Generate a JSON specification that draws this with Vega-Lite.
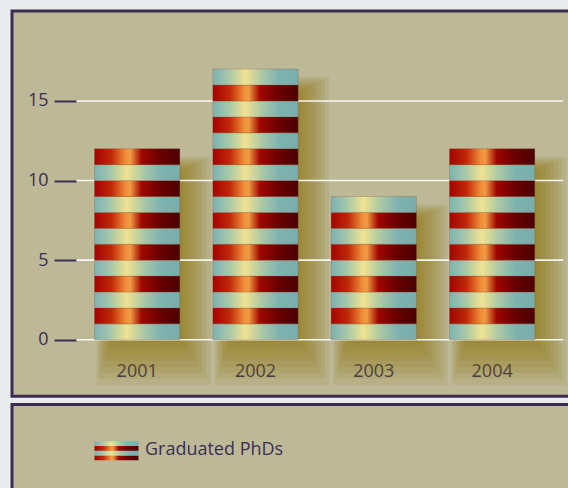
{
  "$schema": "https://vega.github.io/schema/vega-lite/v6.json",
  "background": "#e9ecee",
  "padding": {"left": 10, "top": 9, "right": -7, "bottom": -13.7},
  "spacing": 4.4,
  "config": {
    "view": {"stroke": "#3b2b52", "strokeWidth": 3, "fill": "#bdb997"},
    "font": "Open Sans",
    "bar": {"color": "#8a7000", "opacity": 0.11}
  },
  "datasets": {
    "grid": [{"v": 0}, {"v": 5}, {"v": 10}, {"v": 15}],
    "stripes": [
      {"year": "2001", "seg": 0}, {"year": "2001", "seg": 1}, {"year": "2001", "seg": 2}, {"year": "2001", "seg": 3},
      {"year": "2001", "seg": 4}, {"year": "2001", "seg": 5}, {"year": "2001", "seg": 6}, {"year": "2001", "seg": 7},
      {"year": "2001", "seg": 8}, {"year": "2001", "seg": 9}, {"year": "2001", "seg": 10}, {"year": "2001", "seg": 11},
      {"year": "2002", "seg": 0}, {"year": "2002", "seg": 1}, {"year": "2002", "seg": 2}, {"year": "2002", "seg": 3},
      {"year": "2002", "seg": 4}, {"year": "2002", "seg": 5}, {"year": "2002", "seg": 6}, {"year": "2002", "seg": 7},
      {"year": "2002", "seg": 8}, {"year": "2002", "seg": 9}, {"year": "2002", "seg": 10}, {"year": "2002", "seg": 11},
      {"year": "2002", "seg": 12}, {"year": "2002", "seg": 13}, {"year": "2002", "seg": 14}, {"year": "2002", "seg": 15},
      {"year": "2002", "seg": 16},
      {"year": "2003", "seg": 0}, {"year": "2003", "seg": 1}, {"year": "2003", "seg": 2}, {"year": "2003", "seg": 3},
      {"year": "2003", "seg": 4}, {"year": "2003", "seg": 5}, {"year": "2003", "seg": 6}, {"year": "2003", "seg": 7},
      {"year": "2003", "seg": 8},
      {"year": "2004", "seg": 0}, {"year": "2004", "seg": 1}, {"year": "2004", "seg": 2}, {"year": "2004", "seg": 3},
      {"year": "2004", "seg": 4}, {"year": "2004", "seg": 5}, {"year": "2004", "seg": 6}, {"year": "2004", "seg": 7},
      {"year": "2004", "seg": 8}, {"year": "2004", "seg": 9}, {"year": "2004", "seg": 10}, {"year": "2004", "seg": 11}
    ],
    "swatch": [{"seg": 0, "lo": 0, "hi": 1}, {"seg": 1, "lo": 1, "hi": 2}, {"seg": 2, "lo": 2, "hi": 3}, {"seg": 3, "lo": 3, "hi": 4}],
    "legend": [{"label": "Graduated PhDs"}]
  },
  "vconcat": [
    {
      "width": 562,
      "height": 385.3,
      "resolve": {"scale": {"x": "independent"}},
      "encoding": {
        "y": {"type": "quantitative", "title": null,
          "scale": {"domain": [-3.55, 20.65], "nice": false, "zero": false},
          "axis": {"values": [0, 5, 10, 15], "title": null, "domain": false, "grid": false, "offset": -64, "tickSize": 22, "tickWidth": 2, "tickColor": "#3b2f55", "labelFontSize": 18, "labelColor": "#3b2f55", "labelPadding": 6, "labelFont": "Open Sans"}}
      },
      "layer": [
        {"data": {"name": "stripes"}, "mark": {"type": "bar", "width": 72.3, "xOffset": 9.5, "yOffset": 22, "y2Offset": 3},
          "encoding": {"x": {"field": "year", "type": "nominal", "scale": {"type": "band", "range": [82.5, 522.8], "paddingInner": 0.279, "paddingOuter": 0}, "axis": null},
            "y": {"aggregate": "count", "type": "quantitative", "stack": null}, "y2": {"datum": 0}}},
        {"data": {"name": "stripes"}, "mark": {"type": "bar", "width": 78.3, "xOffset": 10.5, "yOffset": 20, "y2Offset": 9},
          "encoding": {"x": {"field": "year", "type": "nominal", "scale": {"type": "band", "range": [82.5, 522.8], "paddingInner": 0.279, "paddingOuter": 0}, "axis": null},
            "y": {"aggregate": "count", "type": "quantitative", "stack": null}, "y2": {"datum": 0}}},
        {"data": {"name": "stripes"}, "mark": {"type": "bar", "width": 84.3, "xOffset": 11.5, "yOffset": 18, "y2Offset": 15},
          "encoding": {"x": {"field": "year", "type": "nominal", "scale": {"type": "band", "range": [82.5, 522.8], "paddingInner": 0.279, "paddingOuter": 0}, "axis": null},
            "y": {"aggregate": "count", "type": "quantitative", "stack": null}, "y2": {"datum": 0}}},
        {"data": {"name": "stripes"}, "mark": {"type": "bar", "width": 90.3, "xOffset": 12.5, "yOffset": 16, "y2Offset": 21},
          "encoding": {"x": {"field": "year", "type": "nominal", "scale": {"type": "band", "range": [82.5, 522.8], "paddingInner": 0.279, "paddingOuter": 0}, "axis": null},
            "y": {"aggregate": "count", "type": "quantitative", "stack": null}, "y2": {"datum": 0}}},
        {"data": {"name": "stripes"}, "mark": {"type": "bar", "width": 96.3, "xOffset": 13.5, "yOffset": 14, "y2Offset": 27},
          "encoding": {"x": {"field": "year", "type": "nominal", "scale": {"type": "band", "range": [82.5, 522.8], "paddingInner": 0.279, "paddingOuter": 0}, "axis": null},
            "y": {"aggregate": "count", "type": "quantitative", "stack": null}, "y2": {"datum": 0}}},
        {"data": {"name": "stripes"}, "mark": {"type": "bar", "width": 102.3, "xOffset": 14.5, "yOffset": 12, "y2Offset": 33},
          "encoding": {"x": {"field": "year", "type": "nominal", "scale": {"type": "band", "range": [82.5, 522.8], "paddingInner": 0.279, "paddingOuter": 0}, "axis": null},
            "y": {"aggregate": "count", "type": "quantitative", "stack": null}, "y2": {"datum": 0}}},
        {"data": {"name": "stripes"}, "mark": {"type": "bar", "width": 108.3, "xOffset": 15.5, "yOffset": 10, "y2Offset": 39},
          "encoding": {"x": {"field": "year", "type": "nominal", "scale": {"type": "band", "range": [82.5, 522.8], "paddingInner": 0.279, "paddingOuter": 0}, "axis": null},
            "y": {"aggregate": "count", "type": "quantitative", "stack": null}, "y2": {"datum": 0}}},
        {"data": {"name": "stripes"}, "mark": {"type": "bar", "width": 114.3, "xOffset": 16.5, "yOffset": 8, "y2Offset": 45},
          "encoding": {"x": {"field": "year", "type": "nominal", "scale": {"type": "band", "range": [82.5, 522.8], "paddingInner": 0.279, "paddingOuter": 0}, "axis": null},
            "y": {"aggregate": "count", "type": "quantitative", "stack": null}, "y2": {"datum": 0}}},
        {
          "data": {"name": "grid"},
          "mark": {"type": "rule", "color": "#ffffff", "strokeWidth": 1.6, "opacity": 0.9},
          "encoding": {
            "x": {"datum": 0, "type": "quantitative", "scale": {"domain": [0, 1], "range": [64.5, 551.2]}, "axis": null},
            "x2": {"datum": 1},
            "y": {"field": "v", "type": "quantitative"}
          }
        },
        {
          "data": {"name": "stripes"},
          "mark": {"type": "bar", "opacity": 1, "stroke": "#8a4a30", "strokeWidth": 0.6, "strokeOpacity": 0.45},
          "encoding": {
            "x": {"field": "year", "type": "nominal", "scale": {"type": "band", "range": [82.5, 522.8], "paddingInner": 0.279, "paddingOuter": 0},
              "axis": {"title": null, "orient": "bottom", "offset": -56.5, "domain": false, "ticks": false, "tickSize": 0, "labelFontSize": 18, "labelColor": "#3b2f55", "labelPadding": 36.7, "labelBaseline": "alphabetic", "labelAngle": 0, "grid": false, "labelFont": "Open Sans"}},
            "y": {"aggregate": "count", "type": "quantitative", "stack": "zero"},
            "detail": {"field": "seg", "type": "quantitative"},
            "order": {"field": "seg", "type": "quantitative"},
            "fill": {
              "condition": {"test": "datum.seg % 2 === 0", "value": {"gradient": "linear", "x1": 0, "y1": 0, "x2": 1, "y2": 0, "stops": [
                {"offset": 0, "color": "#7bb2b3"}, {"offset": 0.18, "color": "#a6c6aa"}, {"offset": 0.38, "color": "#efe391"}, {"offset": 0.58, "color": "#aac7a6"}, {"offset": 0.78, "color": "#7eb2b1"}, {"offset": 1, "color": "#78aead"}]}},
              "value": {"gradient": "linear", "x1": 0, "y1": 0, "x2": 1, "y2": 0, "stops": [
                {"offset": 0, "color": "#a30200"}, {"offset": 0.2, "color": "#c02a08"}, {"offset": 0.37, "color": "#f2903a"}, {"offset": 0.42, "color": "#f09a44"}, {"offset": 0.55, "color": "#a00800"}, {"offset": 0.75, "color": "#6c0000"}, {"offset": 1, "color": "#4a0000"}]}
            }
          }
        }
      ]
    },
    {
      "width": 562,
      "height": 100,
      "layer": [
        {
          "data": {"name": "swatch"},
          "mark": {"type": "rect"},
          "encoding": {
            "x": {"datum": 0, "type": "quantitative", "scale": {"domain": [0, 1], "range": [82.5, 126.5]}, "axis": null},
            "x2": {"datum": 1},
            "y": {"field": "lo", "type": "quantitative", "scale": {"domain": [0, 4], "range": [55.8, 36.8]}, "axis": null},
            "y2": {"field": "hi"},
            "fill": {
              "condition": {"test": "datum.seg % 2 === 1", "value": {"gradient": "linear", "x1": 0, "y1": 0, "x2": 1, "y2": 0, "stops": [
                {"offset": 0, "color": "#7bb2b3"}, {"offset": 0.18, "color": "#a6c6aa"}, {"offset": 0.38, "color": "#efe391"}, {"offset": 0.58, "color": "#aac7a6"}, {"offset": 0.78, "color": "#7eb2b1"}, {"offset": 1, "color": "#78aead"}]}},
              "value": {"gradient": "linear", "x1": 0, "y1": 0, "x2": 1, "y2": 0, "stops": [
                {"offset": 0, "color": "#a30200"}, {"offset": 0.2, "color": "#c02a08"}, {"offset": 0.37, "color": "#f2903a"}, {"offset": 0.42, "color": "#f09a44"}, {"offset": 0.55, "color": "#a00800"}, {"offset": 0.75, "color": "#6c0000"}, {"offset": 1, "color": "#4a0000"}]}
            }
          }
        },
        {
          "data": {"name": "legend"},
          "mark": {"type": "text", "align": "left", "baseline": "middle", "dx": 6.5, "dy": -1, "fontSize": 18, "font": "Open Sans", "color": "#3b2f55"},
          "encoding": {
            "text": {"field": "label", "type": "nominal"},
            "x": {"datum": 1, "type": "quantitative"},
            "y": {"datum": 2, "type": "quantitative"}
          }
        }
      ]
    }
  ]
}
